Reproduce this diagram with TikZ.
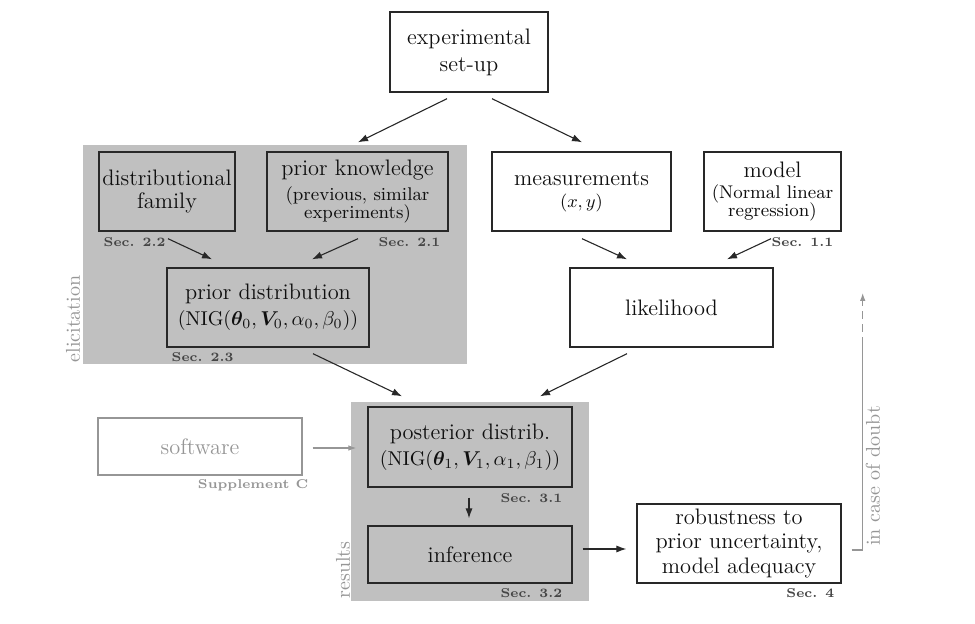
\documentclass[tikz,border=0pt]{standalone}
\usepackage{amsmath}
\usepackage{bm}
\usepackage{fontspec}
\usetikzlibrary{arrows.meta,calc}
\definecolor{boxline}{RGB}{40,40,40}
\definecolor{panel}{RGB}{192,192,192}
\definecolor{softgray}{RGB}{150,150,150}
\definecolor{txtdark}{RGB}{15,15,15}
\definecolor{secdark}{RGB}{70,70,70}
\newcommand{\mainfs}{\fontsize{11.2}{13}\selectfont}
\newcommand{\subfs}{\fontsize{9.2}{10}\selectfont}
\newcommand{\mathfs}{\fontsize{10}{12}\selectfont}
\newcommand{\secfs}{\fontsize{6.4}{8}\selectfont\bfseries\addfontfeatures{LetterSpace=2}}
\newcommand{\sidefs}{\fontsize{10}{12}\selectfont}
\begin{document}
\begin{tikzpicture}[x=0.5pt,y=-0.5pt,
  box/.style={draw=boxline,line width=0.7pt,align=center,inner sep=0pt,text=txtdark,font=\mainfs},
  graybox/.style={draw=softgray,line width=0.7pt,align=center,inner sep=0pt,text=softgray,font=\mainfs},
  arr/.style={draw=boxline,line width=0.55pt,-{Latex[length=5pt,width=3.6pt]}},
  garr/.style={draw=softgray,line width=0.55pt,-{Latex[length=4pt,width=2.8pt]}},
  gline/.style={draw=softgray,line width=0.55pt},
  seclabel/.style={inner sep=0pt,text=secdark,font=\secfs},
  gseclabel/.style={inner sep=0pt,text=softgray,font=\secfs},
  sidelabel/.style={inner sep=0pt,text=softgray,font=\sidefs,rotate=90}]
\useasboundingbox (0,0) rectangle (975,624);
% panels
\fill[panel] (83,145) rectangle (467,364);
\fill[panel] (351,402) rectangle (589,601);
% boxes
\node[box,minimum width=79pt,minimum height=40pt] (exp) at (469,52) {experimental\\[0.5pt]set-up};
\node[box,minimum width=68pt,minimum height=39.5pt] (dist) at (167,191.5) {distributional\\[-1.5pt]family};
\node[box,minimum width=90.5pt,minimum height=39.5pt] (know) at (357.5,191.5) {prior knowledge\\[-0.5pt]{\subfs (previous, similar}\\[-4pt]{\subfs experiments)}};
\node[box,minimum width=101pt,minimum height=39.5pt] (prior) at (268,307.5) {prior distribution\\{\mathfs$(\mathrm{NIG}(\bm{\theta}_0,\bm{V}_0,\alpha_0,\beta_0))$}};
\node[box,minimum width=89.5pt,minimum height=39.5pt] (meas) at (581.5,191.5) {measurements\\[-2pt]{\subfs $(x,y)$}};
\node[box,minimum width=68.5pt,minimum height=39.5pt] (model) at (772.5,191.5) {model\\[-2.5pt]{\subfs (Normal linear}\\[-4pt]{\subfs regression)}};
\node[box,minimum width=101.5pt,minimum height=39.5pt] (lik) at (671.5,307.5) {likelihood};
\node[box,minimum width=102pt,minimum height=40pt] (post) at (470,447) {posterior distrib.\\{\mathfs$(\mathrm{NIG}(\bm{\theta}_1,\bm{V}_1,\alpha_1,\beta_1))$}};
\node[box,minimum width=102pt,minimum height=28.5pt] (inf) at (470,554.5) {inference};
\node[graybox,minimum width=102pt,minimum height=28.5pt] (soft) at (200,446.5) {software};
\node[box,minimum width=102pt,minimum height=39.5pt] (rob) at (739,543.5) {robustness to\\[-0.75pt]prior uncertainty,\\[-0.75pt]model adequacy};
% section labels
\node[seclabel,anchor=west] (s22) at ($(dist.south west)+(5,10)$) {Sec. 2.2};
\node[seclabel,anchor=east] (s21) at ($(know.south east)+(-8,10)$) {Sec. 2.1};
\node[seclabel,anchor=west] (s23) at ($(prior.south west)+(5,9)$) {Sec. 2.3};
\node[seclabel,anchor=east] (s11) at ($(model.south east)+(-8,10)$) {Sec. 1.1};
\node[seclabel,anchor=east] (s31) at ($(post.south east)+(-10,10)$) {Sec. 3.1};
\node[seclabel,anchor=east] (s32) at ($(inf.south east)+(-10,9)$) {Sec. 3.2};
\node[seclabel,anchor=east] (s4) at ($(rob.south east)+(-7,9)$) {Sec. 4};
\node[gseclabel,anchor=east] (supc) at ($(soft.south east)+(6,10)$) {Supplement C};
% side labels
\node[sidelabel] (elic) at (73,319) {elicitation};
\node[sidelabel] (res) at (343,570) {results};
\node[sidelabel] (doubt) at (873,476) {in case of doubt};
% arrows
\draw[arr] ($(exp.south)+(-22,6)$) -- ($(know.north)+(0.5,-9)$);
\draw[arr] ($(exp.south)+(23,6)$) -- ($(meas.north)+(0.5,-9)$);
\draw[arr] ($(dist.south)+(1,7)$) -- ($(prior.north)+(-56,-8)$);
\draw[arr] ($(know.south)+(0.5,7)$) -- ($(prior.north)+(44,-8)$);
\draw[arr] ($(meas.south)+(0.5,7)$) -- ($(lik.north)+(-44.5,-8)$);
\draw[arr] ($(model.south)+(-1.5,7)$) -- ($(lik.north)+(55.5,-8)$);
\draw[arr] ($(prior.south)+(45,6)$) -- ($(post.north)+(-68,-10)$);
\draw[arr] ($(lik.south)+(-44.5,6)$) -- ($(post.north)+(70,-10)$);
\draw[garr] ($(soft.east)+(10,1.5)$) -- ($(post.west)+(-11,1)$);
\draw[arr] ($(post.south)+(-1,10)$) -- ($(inf.north)+(-1,-7)$);
\draw[arr] ($(inf.east)+(10,-5.5)$) -- ($(rob.west)+(-10,5.5)$);
% feedback
\coordinate (dstart) at ($(rob.east)+(21,-198.5)$);
\coordinate (dtop) at ($(dstart)+(0,-52)$);
\draw[gline] ($(rob.east)+(10,6.5)$) -| (dstart);
\draw[garr,dash pattern=on 4pt off 2.5pt] (dstart) -- (dtop);
\end{tikzpicture}
\end{document}
